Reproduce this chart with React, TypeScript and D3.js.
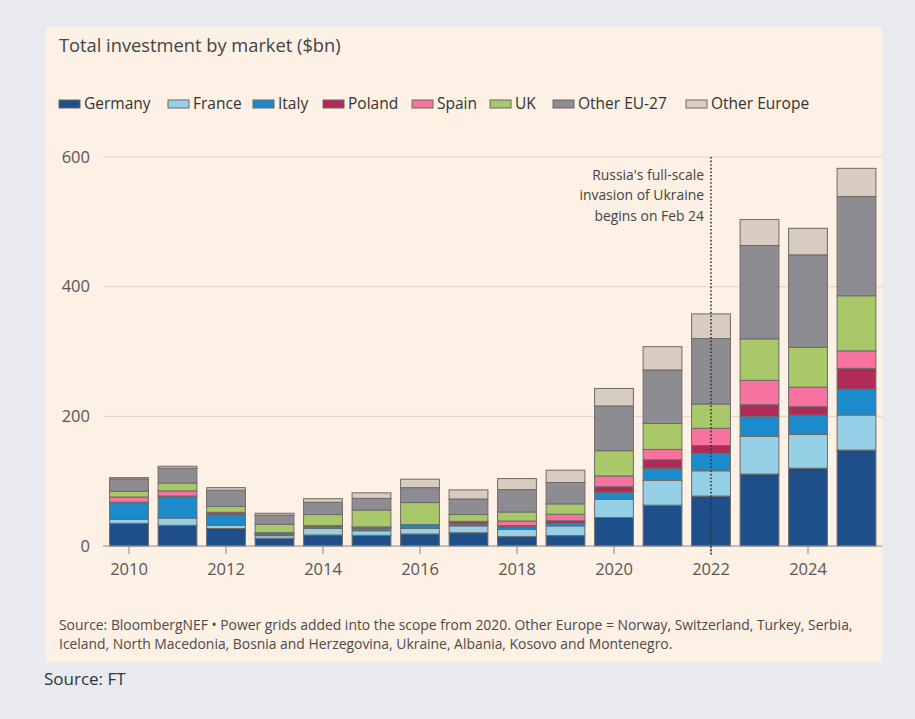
import React from 'react';
import * as d3 from 'd3';

// values in $bn
const years = ['2010', '2011', '2012', '2013', '2014', '2015', '2016', '2017', '2018', '2019', '2020', '2021', '2022', '2023', '2024', '2025'];
const germany = [35, 32, 27, 12, 17, 16.5, 18.5, 20.5, 14.5, 16, 44, 63, 77, 111, 120, 148];
const france = [6, 11, 5, 4, 10, 7, 8.5, 10.5, 11, 15, 28, 38, 39, 58, 52, 54];
const italy = [25, 32, 16, 2.5, 3, 3.5, 5, 3, 4, 4, 11, 19, 27, 31, 30, 40];
const poland = [1.5, 2, 3, 1, 1, 2, 0.5, 3.5, 2, 4, 8.5, 13, 12, 18, 13, 32];
const spain = [8, 8, 1, 1, 0.5, 0.5, 0.5, 0.5, 7, 10, 16.5, 16, 26.5, 37.5, 30, 27];
const uk = [9, 12, 9, 13, 17, 26, 34, 10.5, 14, 16, 39, 40, 37.5, 64, 61.5, 85];
const otherEU = [19, 23, 25, 14, 19, 18, 23, 24, 34.5, 33, 69, 82.5, 101, 144, 142.5, 153];
const otherEurope = [2, 3, 4, 3, 5.5, 8.5, 13, 14, 17, 19, 27, 36, 38, 40, 41, 43.5];

const seriesNames = ['Germany', 'France', 'Italy', 'Poland', 'Spain', 'UK', 'Other EU-27', 'Other Europe'];
const seriesValues = [germany, france, italy, poland, spain, uk, otherEU, otherEurope];
const seriesColors = ['#1f4f8b', '#95d0e6', '#1b8bcb', '#b02b58', '#f7729f', '#a8c86a', '#8d8c92', '#d8cbc0'];
const yTicks = [0, 200, 400, 600];
const xTickYears = ['2010', '2012', '2014', '2016', '2018', '2020', '2022', '2024'];
const eventYear = '2022';
const eventLines = ["Russia's full-scale", 'invasion of Ukraine', 'begins on Feb 24'];
const footnoteLines = [
  'Source: BloombergNEF \u2022 Power grids added into the scope from 2020. Other Europe = Norway, Switzerland, Turkey, Serbia,',
  'Iceland, North Macedonia, Bosnia and Herzegovina, Ukraine, Albania, Kosovo and Montenegro.',
];
// legend x offsets are just layout
const legendX = [59, 168, 253, 323, 412, 490, 553, 686];

const W = 915;
const H = 719;
const FONT = '"Open Sans", "Liberation Sans", sans-serif';

export default function App() {
  const rows = years.map((yr, i) => {
    const r: any = { year: yr };
    seriesNames.forEach((n, j) => { r[n] = seriesValues[j][i]; });
    return r;
  });
  const stacked = d3.stack().keys(seriesNames)(rows);

  const x = d3.scaleBand().domain(years).range([104.75, 880.75]).paddingInner(0.2).paddingOuter(0.1);
  const y = d3.scaleLinear().domain([0, 600]).range([546, 157]);
  const color = d3.scaleOrdinal<string, string>().domain(seriesNames).range(seriesColors);

  const eventX = (x(eventYear) as number) + x.bandwidth() / 2;

  return (
    <svg width={W} height={H} style={{ position: 'absolute', left: 0, top: 0 }} fontFamily={FONT}>
      <rect x={0} y={0} width={W} height={H} fill="#e9eaee" />
      <rect x={46} y={27} width={836} height={635} fill="#fdf0e4" />

      <text x={59} y={52} fontSize={18.3} fill="#444">Total investment by market ($bn)</text>

      {seriesNames.map((n, i) => (
        <g key={n} transform={`translate(${legendX[i]}, 104)`}>
          <rect x={0} y={-4} width={21} height={8} fill={color(n)} stroke="#6d6966" strokeWidth={1} />
          <text x={25} y={0} dy="0.35em" fontSize={15.5} fill="#333">{n}</text>
        </g>
      ))}

      {yTicks.map((t) => (
        <g key={t}>
          {t > 0 && <line x1={103} x2={882} y1={y(t)} y2={y(t)} stroke="#dcd2c8" strokeWidth={1} />}
          <text x={90} y={y(t)} dy="0.35em" textAnchor="end" fontSize={16.5} fill="#5a5652">{t}</text>
        </g>
      ))}

      {stacked.map((s) => (
        <g key={s.key} fill={color(s.key)}>
          {s.map((d, i) => (
            <rect
              key={i}
              x={x(years[i])}
              y={y(d[1])}
              width={x.bandwidth()}
              height={Math.max(0, y(d[0]) - y(d[1]))}
              stroke="#6e6a67"
              strokeWidth={1}
            />
          ))}
        </g>
      ))}

      <line x1={103} x2={882} y1={y(0)} y2={y(0)} stroke="#8e8a86" strokeWidth={1} />
      {xTickYears.map((yr) => {
        const cx = (x(yr) as number) + x.bandwidth() / 2;
        return (
          <g key={yr}>
            <line x1={cx} x2={cx} y1={y(0)} y2={y(0) + 8} stroke="#8e8a86" />
            <text x={cx} y={569} dy="0.35em" textAnchor="middle" fontSize={16.5} fill="#5a5652">{yr}</text>
          </g>
        );
      })}

      <line x1={eventX} x2={eventX} y1={y(600)} y2={y(0) + 9} stroke="#333" strokeWidth={1.6} strokeDasharray="1.6,2" />
      {eventLines.map((l, i) => (
        <text key={i} x={704} y={175 + i * 20.5} dy="0.35em" textAnchor="end" fontSize={13.9} fill="#444">{l}</text>
      ))}

      {footnoteLines.map((l, i) => (
        <text key={i} x={59} y={625 + i * 19} dy="0.35em" fontSize={13.9} fill="#4d4a47">{l}</text>
      ))}

      <text x={44} y={679} dy="0.35em" fontSize={17} fill="#2e3344">Source: FT</text>
    </svg>
  );
}
